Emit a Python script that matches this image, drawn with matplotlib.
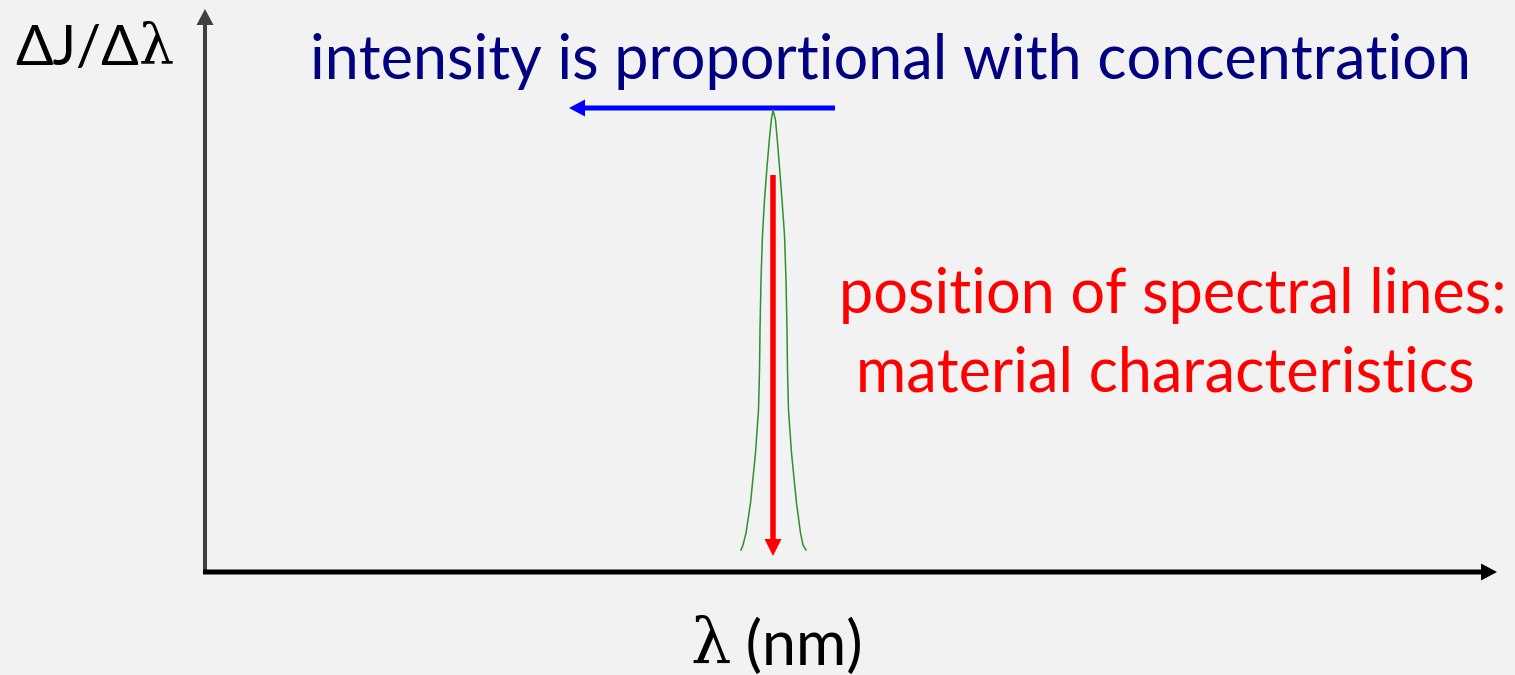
import matplotlib
matplotlib.use('Agg')
import matplotlib.pyplot as plt

# spectral line (pixel coords, y grows downwards)
peak_x = [741, 743, 746, 750.5, 755.5, 758.5, 759.5, 760, 761, 762.5, 764.5, 767, 769.3, 771.3, 773,
          775.5, 777.3, 779.5, 782, 784.5, 786, 787, 787.5, 788.5, 791.5, 796.5, 800.5, 803, 806]
peak_y = [550, 545, 533, 503, 453, 410, 370, 330, 280, 235, 200, 167, 140, 120, 110,
          120, 140, 167, 200, 235, 280, 330, 370, 410, 453, 503, 533, 545, 550]

# axis ends
origin = (205, 572)
y_axis_tip = 9
x_axis_tip = 1497

# annotation arrows: (start, end)
blue_arrow = ((835, 108), (569, 108))
red_arrow = ((773, 175), (773, 556))

y_label = 'ΔJ/Δ'
x_label = ' (nm)'
lam = 'λ'
blue_text = 'intensity is proportional with concentration'
red_text = ['position of spectral lines:', 'material characteristics']

bg = '#f2f2f2'
fig = plt.figure(figsize=(15.15, 6.75), dpi=100, facecolor=bg)
ax = fig.add_axes([0, 0, 1, 1])
ax.set_facecolor(bg)
ax.set_xlim(0, 1515)
ax.set_ylim(675, 0)
ax.axis('off')

sans = ['Lato', 'DejaVu Sans']
serif = ['DejaVu Serif']
fs = 44

# axes
ax.arrow(origin[0], origin[1] + 2, 0, y_axis_tip - origin[1] - 2, width=4, head_width=17,
         head_length=16, length_includes_head=True, color='#404040', lw=0)
ax.arrow(origin[0] - 2, origin[1], x_axis_tip - origin[0] + 2, 0, width=5, head_width=17,
         head_length=16, length_includes_head=True, color='black', lw=0)

# spectral line
ax.plot(peak_x, peak_y, color='#2e922e', lw=1.1)

# arrows
(bx0, by0), (bx1, by1) = blue_arrow
ax.arrow(bx0, by0, bx1 - bx0, by1 - by0, width=5, head_width=17, head_length=16,
         length_includes_head=True, color='#0000ff', lw=0)
(rx0, ry0), (rx1, ry1) = red_arrow
ax.arrow(rx0, ry0, rx1 - rx0, ry1 - ry0, width=5.5, head_width=17, head_length=17,
         length_includes_head=True, color='#ff0000', lw=0)

# texts
t1 = ax.text(15, 65, y_label, fontsize=40, family=sans, ha='left', va='baseline')
ax.annotate(lam, xy=(1, 0), xycoords=t1, fontsize=40, family=serif,
            ha='left', va='bottom')
t2 = ax.text(690, 663, lam, fontsize=fs + 2, family=serif, ha='left', va='baseline')
ax.annotate(x_label, xy=(1, 0), xycoords=t2, fontsize=fs, family=sans,
            ha='left', va='bottom')
ax.text(891, 79, blue_text, fontsize=fs, family=sans, color='#000080',
        ha='center', va='baseline')
ax.text(1173, 313, red_text[0], fontsize=fs, family=sans, color='#ff0000',
        ha='center', va='baseline')
ax.text(1165, 392, red_text[1], fontsize=fs, family=sans, color='#ff0000',
        ha='center', va='baseline')

fig.savefig('out.png', dpi=100, facecolor=bg)
